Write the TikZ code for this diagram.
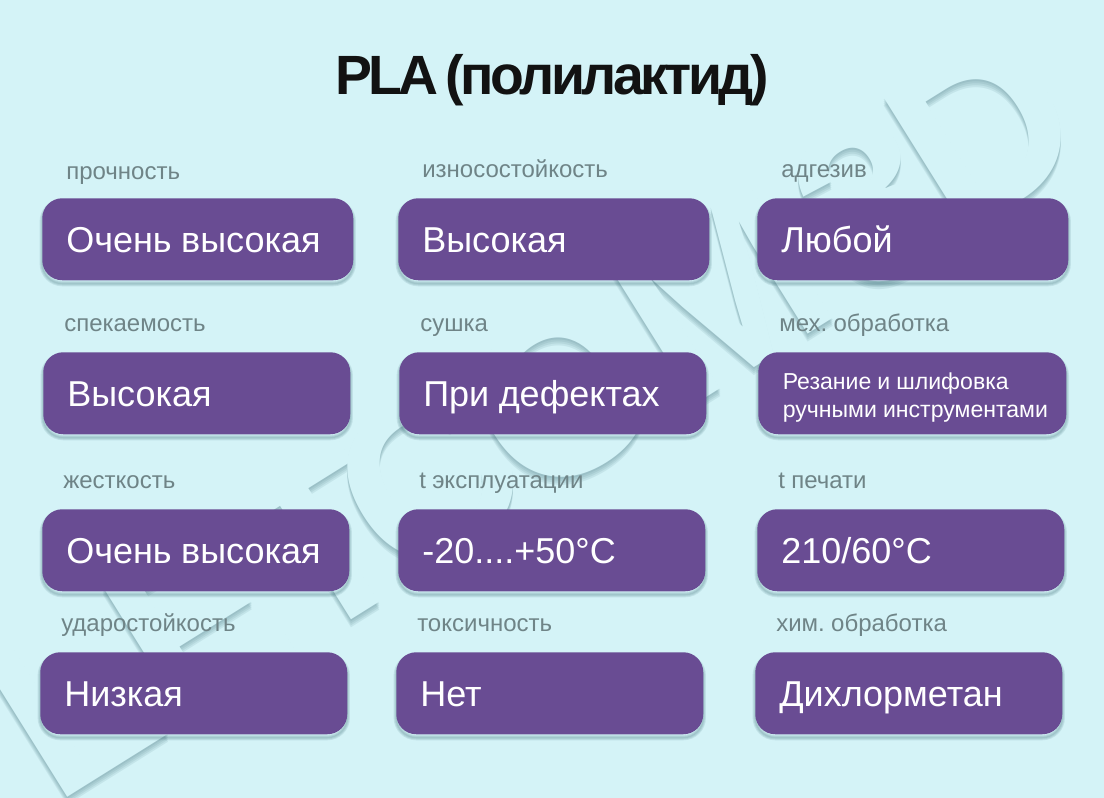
\documentclass[tikz,border=0pt]{standalone}
\usepackage{fontspec}
\setmainfont[WordSpace=0.95]{Liberation Sans}
\newfontfamily\titlefont[LetterSpace=-6.4,WordSpace=0.6]{Liberation Sans}
\usetikzlibrary{shadows}
\definecolor{sheet}{HTML}{D4F3F7}
\definecolor{plum}{HTML}{694C93}
\definecolor{caption}{HTML}{6F8487}
\definecolor{shade}{HTML}{3F6F78}
\tikzset{
  softedge/.style={general shadow={shadow xshift=0pt,shadow yshift=-2.5pt,draw=shade,fill=none,opacity=.13,line width=#1}},
  valbox/.style={rectangle,rounded corners=15pt,fill=plum,text=white,anchor=north west,inner xsep=18pt,inner ysep=0pt,
    minimum height=61.5pt,align=flush left,softedge=4pt,softedge=2.5pt,softedge=1pt},
  valtext/.style={text height=27pt,text depth=7.5pt,font=\fontsize{27}{32}\selectfont},
  caplabel/.style={anchor=base west,inner sep=0pt,text=caption,font=\fontsize{18}{22}\selectfont},
  stamp/.style={anchor=base east,inner sep=0pt,rotate=32,font=\fontsize{174}{174}\selectfont\bfseries},
}
\frenchspacing
\begin{document}
\begin{tikzpicture}[x=0.75pt,y=-0.75pt]
\def\stampword{LET\kern-24pt C\kern-10pt OM\kern12pt 3\kern-12pt D}
\def\texpl{-20....+50°C}
\def\tprint{210/60°C}
\useasboundingbox[fill=sheet] (0,0) rectangle (1104,798);
% watermark
\begin{scope}
\foreach \dy in {2,4,6,8}
  \node[stamp,text=shade,text opacity=.11] (wm\dy) at (1098,153+\dy) {\stampword};
\node[stamp,text=sheet] (wmtop) at (1098,153) {\stampword};
\end{scope}
\node[anchor=base,inner sep=0pt,text=black!93,font=\fontsize{41.5}{50}\selectfont\titlefont\bfseries] (title) at (552,95) {PLA (полилактид)};
% boxes and captions
\foreach \n/\x/\y/\w/\lx/\ly/\lab/\val [evaluate=\w as \bw using \w*0.75,evaluate=\w as \tw using \w*0.75-36] in {
  a/42/198/311/66/180/прочность/Очень высокая,
  b/398/198/311/422/178/износостойкость/Высокая,
  c/757/198/311/781/178/адгезив/Любой,
  d/43/352/307/64/332/спекаемость/Высокая,
  e/399/352/307/420/332/сушка/При дефектах,
  g/42/509/307/63/489/жесткость/Очень высокая,
  h/398/509/307/419/489/t эксплуатации/\texpl,
  i/757/509/307/778/489/t печати/\tprint,
  j/40/652/307/61/632/ударостойкость/Низкая,
  k/396/652/307/417/632/токсичность/Нет,
  m/755/652/307/776/632/хим. обработка/Дихлорметан}
{
  \node[caplabel] (l\n) at (\lx,\ly) {\lab};
  \node[valbox,valtext,minimum width=\bw pt,text width=\tw pt] (b\n) at (\x,\y) {\val};
}
\node[caplabel] (lf) at (779,332) {мех. обработка};
\node[valbox,minimum width=230.25pt,text width=194.25pt,inner xsep=18.4pt,font=\fontsize{17.3}{21}\selectfont] (bf) at (758,352) {\rule{0pt}{19.2pt}Резание и шлифовка\\\mbox{ручными инструментами}};
\end{tikzpicture}
\end{document}
